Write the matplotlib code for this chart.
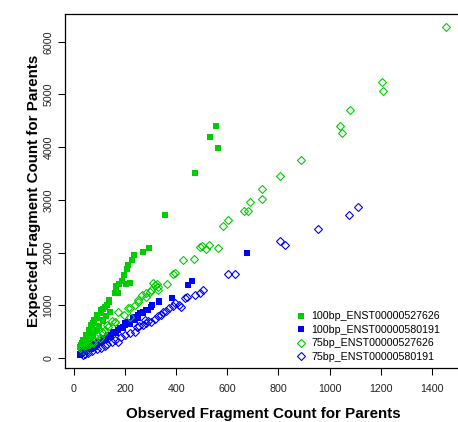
import matplotlib
matplotlib.use("Agg")
import matplotlib.pyplot as plt
from matplotlib.ticker import FixedLocator

plt.rcParams['font.family'] = ['Liberation Sans', 'DejaVu Sans']

# ---- data ----
labels = ["100bp_ENST00000527626", "100bp_ENST00000580191",
          "75bp_ENST00000527626", "75bp_ENST00000580191"]

gsq_x = [554, 532, 563, 474, 356, 292, 270, 235, 227, 211, 206, 196, 188, 175, 163,
         205, 219, 160, 172, 137, 166, 128, 115, 104, 91, 76, 69, 63, 56, 43, 30, 23,
         29, 35, 48, 57, 68, 78, 91, 107, 120, 136, 40, 52, 62, 74, 84, 98, 112, 125,
         33, 45, 26, 141, 89, 115]
gsq_y = [4407, 4200, 3979, 3517, 2720, 2093, 2017, 1960, 1853, 1771, 1689, 1581, 1455, 1404, 1366,
         1398, 1429, 1240, 1240, 1100, 1258, 1006, 924, 848, 753, 670, 594, 469, 374, 309, 279, 214,
         247, 342, 436, 531, 626, 721, 816, 911, 974, 1068, 230, 290, 350, 420, 520, 600, 700, 800,
         200, 260, 180, 879, 531, 721]

bsq_x = [677, 461, 445, 384, 331, 333, 304, 291, 283, 271, 257, 252, 238, 232, 218, 213,
         198, 193, 179, 173, 159, 154, 140, 134, 120, 115, 101, 95, 81, 76, 61, 56, 42, 36,
         23, 22, 250, 220, 190, 165, 145, 125, 105, 85, 65, 45, 30, 200, 270, 300, 240]
bsq_y = [1998, 1467, 1385, 1139, 1087, 1063, 1011, 911, 911, 848, 848, 816, 784, 753, 689, 689,
         626, 594, 564, 531, 469, 499, 404, 436, 342, 374, 279, 309, 214, 260, 171, 214, 120, 152,
         76, 57, 760, 650, 560, 480, 420, 360, 300, 240, 180, 130, 90, 660, 880, 960, 730]

gdi_x = [1455, 1207, 1211, 1080, 1041, 1048, 890, 805, 735, 735, 689, 682, 665, 604, 582,
         562, 530, 517, 500, 494, 471, 425, 395, 386, 363, 326, 310, 317, 327, 303, 283, 329,
         297, 265, 250, 252, 219, 211, 218, 173, 160, 159, 128, 133, 114, 108, 101, 89, 74, 69,
         50, 48, 30, 280, 240, 195, 150, 120, 85, 60, 40]
gdi_y = [6275, 5231, 5072, 4706, 4397, 4264, 3751, 3447, 3213, 3023, 2966, 2789, 2795, 2619, 2499,
         2093, 2144, 2068, 2125, 2100, 1879, 1854, 1613, 1594, 1398, 1398, 1417, 1379, 1290, 1290, 1228, 1353,
         1258, 1195, 1101, 1068, 943, 943, 784, 879, 689, 689, 626, 594, 469, 499, 374, 436, 279, 309,
         214, 184, 152, 1150, 1000, 820, 700, 540, 380, 250, 160]

bdi_x = [1113, 1075, 956, 806, 826, 631, 601, 506, 492, 474, 441, 434, 417, 389, 370, 350,
         317, 394, 303, 238, 172, 107, 35, 330, 290, 270, 255, 220, 200, 185, 150, 130, 90, 70,
         55, 45, 120, 160, 280, 340, 410, 360, 245, 278]
bdi_y = [2865, 2713, 2442, 2214, 2144, 1594, 1600, 1290, 1240, 1195, 1163, 1133, 962, 987, 943, 879,
         734, 1038, 689, 499, 309, 184, 57, 800, 700, 620, 600, 480, 430, 400, 300, 260, 170, 130,
         100, 80, 230, 340, 660, 820, 1000, 900, 594, 721]

xticks = [0, 200, 400, 600, 800, 1000, 1200, 1400]
yticks = [0, 1000, 2000, 3000, 4000, 5000, 6000]

green = "#00CD00"
blue = "#0000FF"

W, H = 458, 422
fig = plt.figure(figsize=(W / 100, H / 100), dpi=100)
ax = fig.add_axes([65 / W, (H - 368) / H, (461.7 - 65) / W, (368 - 14) / H])

ax.plot(gsq_x, gsq_y, ls='none', marker='s', ms=4.7, mfc=green, mec=green, mew=0,
        label=labels[0])
ax.plot(bsq_x, bsq_y, ls='none', marker='s', ms=4.7, mfc=blue, mec=blue, mew=0,
        label=labels[1])
ax.plot(gdi_x, gdi_y, ls='none', marker='D', ms=4.1, mfc='none', mec=green, mew=0.8,
        label=labels[2])
ax.plot(bdi_x, bdi_y, ls='none', marker='D', ms=4.1, mfc='none', mec=blue, mew=0.8,
        label=labels[3])

ax.set_xlim(-35.2, 1517.4)
ax.set_ylim(-190, 6527)
ax.xaxis.set_major_locator(FixedLocator(xticks))
ax.yaxis.set_major_locator(FixedLocator(yticks))
ax.set_xticklabels([str(t) for t in xticks])
ax.set_yticklabels([str(t) for t in yticks])

for s in ax.spines.values():
    s.set_linewidth(0.9)
    s.set_color('black')

ax.tick_params(axis='both', direction='out', length=4.8, width=0.75,
               labelsize=7.7, labelcolor='#222222')
ax.tick_params(axis='x', pad=6.5)
ax.tick_params(axis='y', pad=3.5, labelrotation=90)
for lab in ax.get_yticklabels():
    lab.set_va('center')

ax.set_xlabel("Observed Fragment Count for Parents", fontsize=10.9, fontweight='bold')
ax.set_ylabel("Expected Fragment Count for Parents", fontsize=10.9, fontweight='bold')
ax.xaxis.set_label_coords(263 / W, (H - 414) / H, transform=fig.transFigure)
ax.xaxis.label.set_va('center')
ax.yaxis.set_label_coords(34 / W, (H - 191) / H, transform=fig.transFigure)
ax.yaxis.label.set_va('center')

leg = ax.legend(loc='lower left', bbox_to_anchor=(295.3 / W, (H - 362) / H),
                bbox_transform=fig.transFigure, frameon=False, fontsize=7.7,
                borderpad=0, handlelength=1.0, handletextpad=0.53, labelspacing=0.33,
                borderaxespad=0)

fig.savefig("out.png", dpi=100)
